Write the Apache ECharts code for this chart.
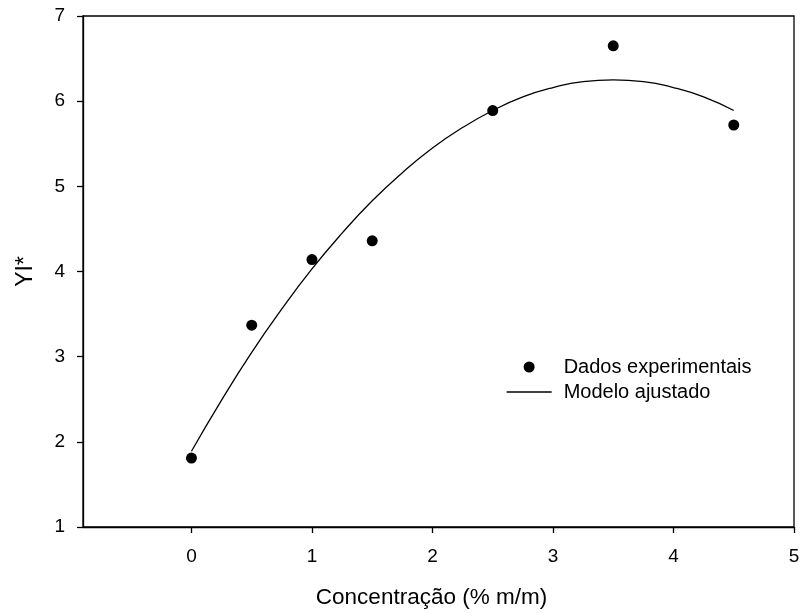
<!DOCTYPE html>
<html>
<head>
<meta charset="utf-8">
<script src="https://cdn.jsdelivr.net/npm/echarts@6/dist/echarts.min.js"></script>
<style>
  html, body { margin: 0; padding: 0; background: #fff; }
  #chart { width: 800px; height: 613px; }
</style>
</head>
<body>
<div id="chart"></div>
<script>
// Measured points
const concentracao = [0, 0.5, 1, 1.5, 2.5, 3.5, 4.5];
const yiMedido = [1.81, 3.37, 4.14, 4.36, 5.89, 6.65, 5.72];

// Fitted curve, sampled along x
const modeloX = [0, 0.25, 0.5, 0.75, 1, 1.25, 1.5, 1.75, 2, 2.25, 2.5, 2.75, 3, 3.25, 3.5, 3.75, 4, 4.25, 4.5];
const modeloY = [1.89, 2.49, 3.05, 3.56, 4.03, 4.45, 4.83, 5.16, 5.45, 5.69, 5.89, 6.05, 6.16, 6.23, 6.25, 6.23, 6.16, 6.05, 5.89];

const xTicks = [0, 1, 2, 3, 4, 5];

const font = 'Liberation Sans, Arial, sans-serif';
const chart = echarts.init(document.getElementById('chart'));

chart.setOption({
  animation: false,
  backgroundColor: '#fff',
  grid: {
    left: 83, right: 6, top: 16, bottom: 86,
    outerBoundsMode: 'none',
    containLabel: false,
    show: true, borderColor: '#000', borderWidth: 1.3
  },
  xAxis: {
    type: 'value',
    min: -0.9, max: 5,
    name: 'Concentração (% m/m)',
    nameLocation: 'middle',
    nameGap: 59,
    nameTextStyle: { fontFamily: font, fontSize: 22.5, color: '#000', padding: [0, 14, 0, 0] },
    axisLine: { onZero: false, lineStyle: { color: '#000', width: 1.3 } },
    axisTick: { inside: false, length: 6, customValues: xTicks, lineStyle: { color: '#000', width: 1.3 } },
    axisLabel: { customValues: xTicks, fontFamily: font, fontSize: 19, color: '#000', margin: 20 },
    splitLine: { show: false }
  },
  yAxis: {
    type: 'value',
    min: 1, max: 7, interval: 1,
    name: 'YI*',
    nameLocation: 'middle',
    nameGap: 46,
    nameTextStyle: { fontFamily: font, fontSize: 23, color: '#000' },
    axisLine: { onZero: false, lineStyle: { color: '#000', width: 1.3 } },
    axisTick: { inside: false, length: 6, lineStyle: { color: '#000', width: 1.3 } },
    axisLabel: { fontFamily: font, fontSize: 19, color: '#000', margin: 18 },
    splitLine: { show: false }
  },
  legend: {
    orient: 'vertical',
    left: 501, top: 352,
    itemWidth: 45, itemHeight: 11,
    itemGap: 5,
    textStyle: { fontFamily: font, fontSize: 20, color: '#000', lineHeight: 20, padding: [0, 0, 0, 7] },
    data: [
      { name: 'Dados experimentais', icon: 'circle', itemStyle: { color: '#000', opacity: 1 } },
      {
        name: 'Modelo ajustado',
        itemStyle: { opacity: 0 },
        lineStyle: { color: '#000', width: 1.3, opacity: 1 }
      }
    ]
  },
  series: [
    {
      name: 'Modelo ajustado',
      type: 'line',
      data: modeloX.map((x, i) => [x, modeloY[i]]),
      smooth: true,
      symbol: 'none',
      lineStyle: { color: '#000', width: 1.3 },
      itemStyle: { color: '#000' },
      z: 2
    },
    {
      name: 'Dados experimentais',
      type: 'scatter',
      data: concentracao.map((x, i) => [x, yiMedido[i]]),
      symbol: 'circle',
      symbolSize: 11,
      itemStyle: { color: '#000', opacity: 1 },
      z: 3
    }
  ]
});
</script>
</body>
</html>
